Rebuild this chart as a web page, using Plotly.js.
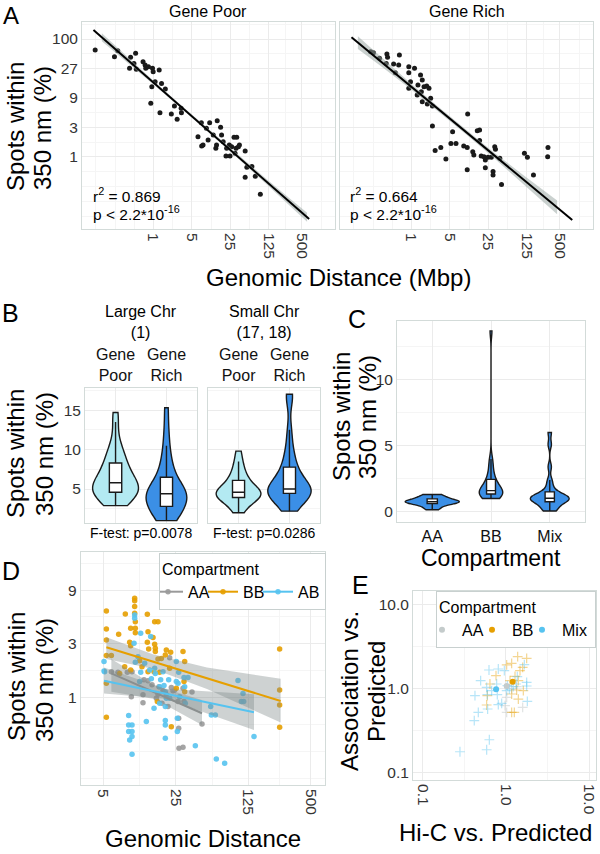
<!DOCTYPE html>
<html><head><meta charset="utf-8">
<script src="https://cdn.plot.ly/plotly-3.0.1.min.js"></script>
<style>html,body{margin:0;padding:0;background:#fff}#chart{width:600px;height:854px}</style>
</head><body><div id="chart"></div>
<script>
// ---------- Panel A data ----------
const gpX = [0.087,0.195,0.224,0.383,0.473,0.441,0.367,0.487,0.646,0.703,0.723,0.809,0.959,0.986,1.27,1.07,1.40,0.932,1.64,0.893,1.31,2.40,3.18,3.22,2.11,2.69,7.41,10.5,14.4,9.16,16.6,6.44,7.51,7.96,9.84,12.2,17.3,14.0,13.6,18.5,23.9,21.4,29.1,32.6,26.4,31.7,35.0,36.5,46.4,20.8,24.6,30.4,49.8,61.5,46.4,70.9,87.6];
const gpY = [53.8,41.9,52.4,40.9,47.5,32.7,27.2,26.2,34.8,30.8,27.2,28.9,27.2,24.0,25.5,16.5,15.5,13.7,12.6,7.38,5.21,6.68,6.12,5.21,4.96,4.07,3.59,3.59,3.87,2.91,3.02,2.13,1.51,1.56,1.88,2.27,2.27,1.56,1.38,1.77,1.56,1.38,2.08,2.08,1.47,1.38,1.47,1.56,1.25,1.04,1.04,1.15,0.68,0.70,0.47,0.49,0.25];
const gpFitX = [0.081,0.115,0.3,1,3,10,30,100,300,620,676];
const gpFitY = [113.6,86.4,41.0,16,6.8,2.66,1.13,0.44,0.187,0.106,0.099];
const gpBandX = [0.115,0.3,1,3,10,30,100,300,620];
const gpLo = [74.5,36.9,14.95,6.45,2.52,1.056,0.40,0.164,0.0898];
const gpHi = [100.2,45.5,17.1,7.17,2.81,1.21,0.484,0.213,0.125];

const grX = [0.181,0.203,0.262,0.357,0.367,0.347,0.473,0.585,0.602,0.508,0.893,1.135,0.893,1.46,1.57,0.959,0.893,1.31,1.69,1.89,2.08,1.27,1.57,1.94,2.23,2.40,1.51,2.40,10.5,2.69,3.41,4.22,5.21,6.44,5.59,8.91,10.3,10.3,13.0,13.6,15.7,17.3,17.3,18.5,20.8,22.0,22.0,28.3,30.4,30.4,32.6,33.6,40.3,43.3,113,128,165,303,299,24.6];
const grY = [50.5,48.7,39.5,46.3,40.9,32.7,32.0,30.8,44.7,23.1,28.9,27.2,23.1,21.2,17.6,16.5,12.9,14.6,13.7,14.1,12.9,10.1,7.85,7.20,8.89,6.68,11.4,3.17,4.96,1.27,1.43,0.93,1.66,1.66,2.57,1.51,1.43,0.62,1.22,1.08,2.67,2.73,1.84,1.04,1.01,0.89,0.67,0.99,0.58,0.51,1.47,1.33,0.95,0.36,1.15,0.99,0.51,1.42,1.01,0.99];
const grFitX = [0.081,0.106,0.3,1,3,10,30,100,300,444,837];
const grFitY = [86.5,71.0,33.0,13.6,6.06,2.50,1.11,0.459,0.204,0.153,0.096];
const grBandX = [0.106,0.3,1,3,10,30,100,300,444];
const grLo = [55.9,28.0,12.25,5.56,2.29,1.0,0.392,0.163,0.119];
const grHi = [90.2,38.9,15.1,6.61,2.73,1.23,0.537,0.255,0.197];

const aTickVals = [1,3,9,27,81];
const aTickText = ['1','3','9','27','100'];
const distTickVals = [1,5,25,125,500];
const distTickText = ['1','5','25','125','500'];

// ---------- Panel B data ----------
const bCats = ['Gene<br>Poor','Gene<br>Rich'];
const bLargePoor = [2.9,3.3,3.7,4.0,4.2,4.4,4.5,4.6,4.7,4.8,4.9,5.0,5.2,5.5,5.8,5.8,6.0,6.3,6.7,7.0,7.4,7.8,8.3,8.6,9.0,9.5,10.2,11.0,13.5,14.7];
const bLargeRich = [1.0,1.1,1.5,1.9,2.3,2.6,2.8,3.1,3.5,3.8,4.0,4.2,4.3,4.5,4.6,4.8,5.0,5.3,5.8,6.5,7.3,8.0,9.0,10.5,12.5,15.3];
const bSmallPoor = [2.0,2.6,3.1,3.5,3.8,3.9,4.0,4.2,4.3,4.4,4.5,4.6,4.7,4.9,5.1,5.4,5.8,6.2,6.5,7.0,7.8,8.5,9.8];
const bSmallRich = [2.2,2.8,3.4,3.8,4.1,4.3,4.5,4.6,4.7,4.8,4.9,4.9,5.0,5.2,5.6,6.0,6.6,7.1,7.6,8.3,9.2,10.5,12.5,16.5,17.0];

// ---------- Panel C data ----------
const cCats = ['AA','BB','Mix'];
const cAA = [0.15,0.3,0.5,0.6,0.65,0.7,0.75,0.75,0.8,0.85,0.9,1.0,1.1,1.25,1.3];
const cBB = [1.0,1.05,1.1,1.2,1.3,1.35,1.4,1.45,1.5,1.55,1.6,1.7,1.8,2.0,2.2,2.4,2.6,3.0,3.5,4.0,13.7];
const cMix = [0.05,0.1,0.2,0.4,0.6,0.7,0.8,0.85,0.9,0.95,1.0,1.0,1.05,1.1,1.15,1.2,1.3,1.4,1.6,2.0,2.4,3.4,5.1,6.0];

// ---------- Panel D data ----------
const dGroups = ['AA','BB','AB'];
const aaX = [5.98,6.93,8.52,9.46,9.32,12.07,12.07,12.35,13.49,14.75,16.23,16.85,17.22,18.82,18.41,20.26,21.03,21.83,22.65,23.50,24.39,26.27,26.66,26.66,26.85,29.35,30.01,35.84,44.75,29.35];
const aaY = [1.70,1.68,1.68,1.70,1.02,1.06,0.903,1.44,1.41,1.30,0.987,1.07,1.25,1.15,0.891,1.06,0.833,2.26,1.23,1.15,1.17,0.922,0.656,0.535,0.356,0.363,0.922,1.12,0.585,1.21];
const bbX = [5.35,5.35,5.35,5.35,5.35,5.35,5.98,7.03,8.15,8.04,7.19,8.98,9.18,9.18,9.18,10.03,10.03,10.03,10.03,10.18,10.18,10.18,11.21,11.81,13.29,13.49,13.29,13.69,13.49,15.64,16.85,15.08,15.64,15.87,15.87,15.42,16.85,18.14,17.48,16.60,19.82,20.26,22.32,21.83,22.65,25.31,29.35,30.46,30.46,30.01,251,251,251,251];
const bbY = [5.87,4.07,3.25,2.36,0.670,1.34,2.36,3.65,5.52,1.88,1.64,3.10,2.89,4.12,1.76,7.61,7.25,6.42,5.60,4.72,4.12,3.77,2.12,1.88,5.49,3.85,3.10,2.70,1.70,4.72,4.72,3.41,2.97,2.74,2.56,1.70,2.20,2.23,1.68,0.922,2.39,2.65,2.53,1.82,0.553,1.21,2.56,2.09,1.13,1.39,2.70,1.17,0.861,0.546];
const abX = [5.08,5.08,5.15,8.78,8.78,8.78,8.98,9.46,9.46,9.46,9.46,10.03,10.03,9.89,10.18,10.80,11.47,11.47,11.21,12.53,13.00,14.00,14.31,14.53,15.64,15.87,17.48,17.87,18.82,19.24,19.82,19.82,19.82,19.82,19.82,20.26,21.35,21.83,17.48,15.42,25.31,25.31,25.88,25.88,26.27,26.66,27.25,30.01,30.46,30.90,32.80,38.59,54.25,55.06,60.15,61.5,74.0,99.5,107.2,111.2,112.9,142.0];
const abY = [2.09,1.72,1.70,0.693,0.573,0.500,0.422,0.573,0.500,0.451,0.315,5.41,5.06,3.04,2.06,2.31,3.72,1.68,1.39,2.02,0.613,1.76,3.48,1.47,1.82,1.64,1.25,1.44,1.70,1.28,1.12,0.833,0.626,0.573,0.436,0.987,1.44,0.987,0.891,0.805,2.09,1.39,0.656,0.500,1.34,1.68,1.02,1.51,1.25,0.891,1.51,0.375,0.833,0.702,0.702,0.286,0.262,1.42,0.922,1.09,0.922,0.451];
const aaFitX = [5.98,15.6,44.75], aaFitY = [1.64,1.12,0.727], aaLo = [1.13,0.975,0.573], aaHi = [2.20,1.28,0.954];
const bbFitX = [5.35,15,50,256.7], bbFitY = [2.80,2.09,1.49,0.935], bbLo = [2.20,1.80,1.19,0.601], bbHi = [3.43,2.42,1.85,1.47];
const abFitX = [5.08,19.8,142], abFitY = [1.41,1.085,0.742], abLo = [1.09,0.98,0.517], abHi = [1.85,1.20,1.07];
const dXTickVals = [5,25,125,500];
const dYTickVals = [1,3,9];

// ---------- Panel E data ----------
const eGroups = ['AA','BB','Mix'];
const eAAx = [1.019,0.972,1.019,1.588,1.170,1.344];
const eAAy = [0.787,0.626,0.521,0.597,0.990,1.056];
const eBBx = [1.382,1.774,1.170,1.019,1.588,1.475,0.758,0.641,1.284,1.117,1.408,1.170,1.344,1.617,0.585,1.170,1.260,1.408,0.596];
const eBBy = [2.413,2.304,2.007,1.918,1.798,1.640,1.429,1.136,1.403,1.245,1.245,0.863,0.963,0.946,0.637,0.521,0.521,0.751,0.824];
const eMixX = [0.624,0.808,0.955,0.495,0.585,0.772,1.038,1.097,1.774,1.774,1.663,1.369,0.423,0.596,0.786,1.019,1.807,0.601,0.808,0.887,0.464,0.415,0.630,0.585,0.279,1.226,1.320,0.672];
const eMixY = [1.671,1.717,1.640,1.245,1.036,1.136,1.085,0.990,1.190,1.075,1.935,1.390,0.824,0.847,0.847,0.946,0.705,0.571,0.643,0.667,0.521,0.414,0.245,0.186,0.176,1.056,1.136,0.946];
const eSummaryX = [1.019,1.203,0.76];
const eSummaryY = [1.075,1.212,0.981];
const eTickVals = [0.1,1,10];
const eTickText = ['0.1','1.0','10.0'];

// ---------- styling ----------
const FONT = 'Liberation Sans, Arial, Helvetica, sans-serif';
const W = 600, H = 854;
const fx = v => v / W;
const fy = v => 1 - v / H;
const BORDER = '#d3dbd9', GRID = '#ebebeb', MINOR = '#f5f5f5', TICKC = '#333333';
const LIGHT = '#b3eaf2', DARK = '#3b8fe6', OUT = '#1a1a1a';
const C_AA = '#9a9a9a', C_BB = '#e69f00', C_AB = '#56c3f0';
const BAND = 'rgba(150,163,160,0.5)', DBAND = 'rgba(125,138,136,0.38)';

function axis(extra) {
  return Object.assign({
    showline: true, mirror: true, linecolor: BORDER, linewidth: 1,
    showgrid: true, gridcolor: GRID, gridwidth: 1, zeroline: false,
    ticks: '', tickfont: {family: FONT, size: 15.5, color: TICKC}, fixedrange: true
  }, extra);
}
function minor(vals) { return {tickmode: 'array', tickvals: vals, showgrid: true, gridcolor: MINOR, gridwidth: 1, ticks: ''}; }
function bandPoly(xs, lo, hi, xa, ya, color) {
  return {type: 'scatter', mode: 'lines', x: xs.concat(xs.slice().reverse()), y: hi.concat(lo.slice().reverse()),
    fill: 'toself', fillcolor: color, line: {width: 0}, xaxis: xa, yaxis: ya, showlegend: false, hoverinfo: 'skip'};
}
function fitLine(xs, ys, xa, ya, color, w) {
  return {type: 'scatter', mode: 'lines', x: xs, y: ys, line: {color: color, width: w}, xaxis: xa, yaxis: ya, showlegend: false, hoverinfo: 'skip'};
}
function violin(vals, pos, xa, ya, fill, width, boxw) {
  return {type: 'violin', x0: pos, y: vals, xaxis: xa, yaxis: ya, fillcolor: fill,
    line: {color: OUT, width: 1.4}, width: width, spanmode: 'hard', points: false, scalemode: 'width',
    box: {visible: true, width: boxw, fillcolor: '#ffffff', line: {color: OUT, width: 1.4}},
    meanline: {visible: false}, showlegend: false, hoverinfo: 'skip', opacity: 1};
}
// points with a line+marker legend symbol (gaps keep points from being joined)
function gapped(arr) { const out = []; arr.forEach((v, i) => { if (i) out.push(null); out.push(v); }); return out; }
function dPoints(xs, ys, name, color) {
  return {type: 'scatter', mode: 'lines+markers', x: gapped(xs), y: gapped(ys), connectgaps: false, name: name,
    marker: {color: color, size: 5.5, opacity: 0.9}, line: {color: color, width: 2},
    xaxis: 'x6', yaxis: 'y6', legend: 'legend', legendwidth: 22, hoverinfo: 'skip'};
}
function eCross(xs, ys, color) {
  return {type: 'scatter', mode: 'markers', x: xs, y: ys, xaxis: 'x7', yaxis: 'y7', showlegend: false,
    marker: {symbol: 'cross-thin', size: 7, color: color, opacity: 0.42, line: {color: color, width: 1.2}}, hoverinfo: 'skip'};
}

const traces = [];
// A
traces.push({type: 'scatter', mode: 'markers', x: gpX, y: gpY, xaxis: 'x', yaxis: 'y', marker: {color: OUT, size: 5}, showlegend: false, hoverinfo: 'skip'});
traces.push(bandPoly(gpBandX, gpLo, gpHi, 'x', 'y', BAND));
traces.push(fitLine(gpFitX, gpFitY, 'x', 'y', '#000', 2));
traces.push({type: 'scatter', mode: 'markers', x: grX, y: grY, xaxis: 'x2', yaxis: 'y2', marker: {color: OUT, size: 5}, showlegend: false, hoverinfo: 'skip'});
traces.push(bandPoly(grBandX, grLo, grHi, 'x2', 'y2', BAND));
traces.push(fitLine(grFitX, grFitY, 'x2', 'y2', '#000', 2));
// B
traces.push(violin(bLargePoor, 0, 'x3', 'y3', LIGHT, 0.9, 0.27));
traces.push(violin(bLargeRich, 1, 'x3', 'y3', DARK, 0.8, 0.3));
traces.push(violin(bSmallPoor, 0, 'x4', 'y4', LIGHT, 0.88, 0.27));
traces.push(violin(bSmallRich, 1, 'x4', 'y4', DARK, 0.85, 0.28));
// C
traces.push(violin(cAA, 0, 'x5', 'y5', DARK, 0.92, 0.19));
traces.push(violin(cBB, 1, 'x5', 'y5', DARK, 0.4, 0.38));
traces.push(violin(cMix, 2, 'x5', 'y5', DARK, 0.66, 0.24));
// D
traces.push(dPoints(aaX, aaY, dGroups[0], C_AA));
traces.push(dPoints(bbX, bbY, dGroups[1], C_BB));
traces.push(dPoints(abX, abY, dGroups[2], C_AB));
traces.push(bandPoly(aaFitX, aaLo, aaHi, 'x6', 'y6', DBAND));
traces.push(bandPoly(bbFitX, bbLo, bbHi, 'x6', 'y6', DBAND));
traces.push(bandPoly(abFitX, abLo, abHi, 'x6', 'y6', DBAND));
traces.push(fitLine(aaFitX, aaFitY, 'x6', 'y6', '#8a8f8f', 2));
traces.push(fitLine(bbFitX, bbFitY, 'x6', 'y6', C_BB, 2));
traces.push(fitLine(abFitX, abFitY, 'x6', 'y6', C_AB, 2));
// E
traces.push(eCross(eAAx, eAAy, '#b8bfbf'));
traces.push(eCross(eBBx, eBBy, C_BB));
traces.push(eCross(eMixX, eMixY, C_AB));
const eCols = ['#c4cbcb', C_BB, C_AB];
const eLegW = [20, 20, 28];
eGroups.forEach((g, i) => traces.push({type: 'scatter', mode: 'markers', name: g, x: [eSummaryX[i]], y: [eSummaryY[i]],
  xaxis: 'x7', yaxis: 'y7', legend: 'legend2', legendwidth: eLegW[i], marker: {color: eCols[i], size: 6}, hoverinfo: 'skip'}));

function ann(text, x, y, size, extra) {
  return Object.assign({text: text, x: fx(x), y: fy(y), xref: 'paper', yref: 'paper', showarrow: false,
    font: {family: FONT, size: size, color: '#000'}, xanchor: 'center', yanchor: 'middle'}, extra || {});
}
const rot = {textangle: -90};
const annotations = [
  ann('A', 11, 15, 24), ann('B', 10, 313, 25), ann('C', 357, 319, 25), ann('D', 11, 571, 25), ann('E', 360, 585, 25),
  ann('Gene Poor', 208.5, 11, 16), ann('Gene Rich', 466.5, 11, 16),
  ann('Spots within', 15, 127, 24, rot), ann('350 nm (%)', 43, 128, 24, rot),
  ann('Genomic Distance (Mbp)', 338, 277, 24),
  ann('r<sup>2</sup> = 0.869', 91, 195, 15.5, {xanchor: 'left'}), ann('p < 2.2*10<sup>-16</sup>', 91, 213, 15.5, {xanchor: 'left'}),
  ann('r<sup>2</sup> = 0.664', 348, 195, 15.5, {xanchor: 'left'}), ann('p < 2.2*10<sup>-16</sup>', 348, 213, 15.5, {xanchor: 'left'}),
  ann('Large Chr<br>(1)', 141, 322, 16), ann('Small Chr<br>(17, 18)', 264, 322, 16),
  ann('Spots within', 15, 454, 24, rot), ann('350 nm (%)', 44, 454, 24, rot),
  ann('F-test: p=0.0078', 141, 533, 14), ann('F-test: p=0.0286', 264, 533, 14),
  ann('Spots within', 341, 417, 24, rot), ann('350 nm (%)', 367, 417, 24, rot),
  ann('Compartment', 491, 558, 23),
  ann('Spots within', 16, 677, 24, rot), ann('350 nm (%)', 44, 680, 24, rot),
  ann('Genomic Distance', 203, 838, 24),
  ann('Association vs.', 349, 691, 24, rot), ann('Predicted', 376, 692, 24, rot),
  ann('Hi-C vs. Predicted', 495, 832, 24)
];

const layout = {
  width: W, height: H, margin: {l: 0, r: 0, t: 0, b: 0}, paper_bgcolor: '#fff', plot_bgcolor: '#fff',
  font: {family: FONT}, showlegend: true, violinmode: 'overlay',
  // A
  xaxis: axis({domain: [fx(82), fx(335)], type: 'log', range: [-1.30, 3.30], anchor: 'y', tickvals: distTickVals, ticktext: distTickText, tickangle: 90,
    minor: minor([0.0894, 0.2, 0.447, 2.236, 11.18, 55.9, 250, 1118])}),
  yaxis: axis({domain: [fy(229), fy(22)], type: 'log', range: [-1.165, 2.184], anchor: 'x', tickvals: aTickVals, ticktext: aTickText,
    minor: minor([0.111, 0.192, 0.333, 0.577, 1.732, 5.196, 15.59, 46.77, 140.3])}),
  xaxis2: axis({domain: [fx(340), fx(593)], type: 'log', range: [-1.30, 3.30], anchor: 'y2', tickvals: distTickVals, ticktext: distTickText, tickangle: 90,
    minor: minor([0.0894, 0.2, 0.447, 2.236, 11.18, 55.9, 250, 1118])}),
  yaxis2: axis({domain: [fy(229), fy(22)], type: 'log', range: [-1.165, 2.184], anchor: 'x2', tickvals: aTickVals, showticklabels: false,
    minor: minor([0.111, 0.192, 0.333, 0.577, 1.732, 5.196, 15.59, 46.77, 140.3])}),
  // B
  xaxis3: axis({domain: [fx(85), fx(197)], range: [-0.6, 1.6], anchor: 'y3', side: 'top', tickvals: [0, 1], ticktext: bCats,
    tickfont: {family: FONT, size: 16, color: '#111'}}),
  yaxis3: axis({domain: [fy(523), fy(388)], range: [0.7, 17.8], anchor: 'x3', tickvals: [5, 10, 15], minor: minor([2.5, 7.5, 12.5, 17.5])}),
  xaxis4: axis({domain: [fx(208), fx(320)], range: [-0.6, 1.6], anchor: 'y4', side: 'top', tickvals: [0, 1], ticktext: bCats,
    tickfont: {family: FONT, size: 16, color: '#111'}}),
  yaxis4: axis({domain: [fy(523), fy(388)], range: [0.7, 17.8], anchor: 'x4', tickvals: [5, 10, 15], showticklabels: false, minor: minor([2.5, 7.5, 12.5, 17.5])}),
  // C
  xaxis5: axis({domain: [fx(397), fx(585)], range: [-0.6, 2.6], anchor: 'y5', tickvals: [0, 1, 2], ticktext: cCats,
    tickfont: {family: FONT, size: 16, color: '#111'}}),
  yaxis5: axis({domain: [fy(522), fy(321)], range: [-0.78, 14.45], anchor: 'x5', tickvals: [0, 5, 10], minor: minor([2.5, 7.5, 12.5])}),
  // D
  xaxis6: axis({domain: [fx(80.7), fx(325)], type: 'log', range: [0.481, 2.837], anchor: 'y6', tickvals: dXTickVals, tickangle: 90,
    minor: minor([11.18, 55.9, 250])}),
  yaxis6: axis({domain: [fy(785), fy(552)], type: 'log', range: [-0.775, 1.292], anchor: 'x6', tickvals: dYTickVals,
    minor: minor([0.192, 0.333, 0.577, 1.732, 5.196, 15.59])}),
  // E
  xaxis7: axis({domain: [fx(413), fx(596)], type: 'log', range: [-1.12, 1.084], anchor: 'y7', tickvals: eTickVals, ticktext: eTickText, tickangle: 90,
    minor: minor([0.316, 3.16])}),
  yaxis7: axis({domain: [fy(780), fy(591)], type: 'log', range: [-1.092, 1.167], anchor: 'x7', tickvals: eTickVals, ticktext: eTickText,
    minor: minor([0.316, 3.16])}),
  legend: {x: fx(326), xanchor: 'right', y: fy(553), yanchor: 'top', orientation: 'h', bgcolor: '#fff', bordercolor: '#c8d0cf', borderwidth: 1,
    font: {family: FONT, size: 16, color: '#000'}, title: {text: 'Compartment', side: 'top', font: {family: FONT, size: 16, color: '#000'}},
    itemwidth: 30, indentation: -12, tracegroupgap: 0},
  legend2: {x: fx(596), xanchor: 'right', y: fy(591), yanchor: 'top', orientation: 'h', bgcolor: '#fff', bordercolor: '#c8d0cf', borderwidth: 1,
    font: {family: FONT, size: 16, color: '#000'}, title: {text: 'Compartment', side: 'top', font: {family: FONT, size: 16, color: '#000'}},
    itemwidth: 30, indentation: -15, tracegroupgap: 0},
  annotations: annotations
};

Plotly.newPlot('chart', traces, layout, {staticPlot: true, displayModeBar: false});
</script></body></html>
